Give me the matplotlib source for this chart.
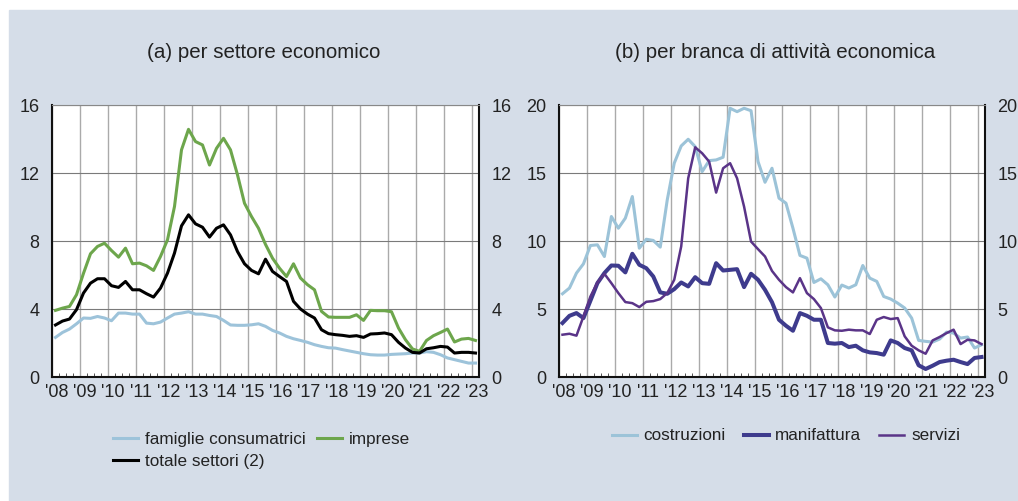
import matplotlib

matplotlib.use("Agg")
import matplotlib.pyplot as plt
import matplotlib.transforms as mtransforms
import numpy as np
from matplotlib.patches import Rectangle

plt.rcParams["font.family"] = ["Liberation Sans", "DejaVu Sans"]

# quarterly data, 2008Q1 .. 2023Q1 (plotted at mid-quarter)
quarters = 2008.125 + 0.25 * np.arange(61)
years = list(range(2008, 2024))
year_labels = ["'%02d" % (y % 100) for y in years]

# (a) per settore economico
famiglie = [2.33, 2.62, 2.82, 3.13, 3.47, 3.45, 3.56, 3.47, 3.31, 3.76,
            3.76, 3.70, 3.70, 3.17, 3.13, 3.23, 3.47, 3.70, 3.76, 3.84,
            3.70, 3.70, 3.62, 3.56, 3.33, 3.06, 3.04, 3.04, 3.07, 3.13,
            2.98, 2.74, 2.59, 2.39, 2.25, 2.15, 2.04, 1.90, 1.80, 1.72,
            1.70, 1.61, 1.53, 1.45, 1.37, 1.31, 1.29, 1.29, 1.33, 1.35,
            1.37, 1.41, 1.41, 1.49, 1.45, 1.31, 1.12, 1.02, 0.92, 0.82,
            0.82]
imprese = [3.92, 4.05, 4.15, 4.84, 6.10, 7.25, 7.68, 7.87, 7.44, 7.05,
           7.58, 6.66, 6.70, 6.54, 6.27, 7.09, 8.07, 10.03, 13.36, 14.57,
           13.85, 13.65, 12.47, 13.45, 14.04, 13.36, 11.89, 10.22, 9.44, 8.75,
           7.80, 6.99, 6.40, 5.91, 6.66, 5.82, 5.43, 5.13, 3.86, 3.53,
           3.51, 3.51, 3.51, 3.66, 3.33, 3.92, 3.90, 3.90, 3.84, 2.88,
           2.19, 1.65, 1.51, 2.15, 2.43, 2.62, 2.82, 2.06, 2.23, 2.27,
           2.15]
totale = [3.06, 3.29, 3.41, 3.96, 4.94, 5.52, 5.78, 5.78, 5.37, 5.27,
          5.62, 5.13, 5.13, 4.90, 4.70, 5.23, 6.11, 7.29, 8.89, 9.54,
          9.01, 8.81, 8.23, 8.75, 8.95, 8.36, 7.38, 6.66, 6.27, 6.07,
          6.93, 6.21, 5.91, 5.62, 4.45, 4.00, 3.70, 3.47, 2.78, 2.55,
          2.49, 2.45, 2.39, 2.43, 2.33, 2.53, 2.55, 2.59, 2.49, 2.04,
          1.70, 1.45, 1.41, 1.66, 1.72, 1.80, 1.76, 1.41, 1.45, 1.45,
          1.41]

# (b) per branca di attivita economica
costruzioni = [6.12, 6.54, 7.64, 8.32, 9.67, 9.72, 8.86, 11.80, 10.94, 11.68,
               13.27, 9.47, 10.13, 10.04, 9.55, 13.02, 15.72, 16.99, 17.48, 16.94,
               15.10, 15.91, 15.96, 16.16, 19.76, 19.51, 19.76, 19.58, 15.84, 14.32,
               15.35, 13.15, 12.78, 10.94, 8.94, 8.74, 6.95, 7.22, 6.78, 5.88,
               6.76, 6.54, 6.78, 8.20, 7.27, 7.03, 5.92, 5.73, 5.43, 5.07,
               4.33, 2.69, 2.62, 2.57, 2.79, 3.30, 3.23, 2.86, 2.94, 2.13,
               2.37]
manifattura = [3.97, 4.50, 4.70, 4.33, 5.61, 6.90, 7.64, 8.20, 8.18, 7.69,
               9.06, 8.25, 8.00, 7.39, 6.22, 6.12, 6.46, 6.95, 6.66, 7.34,
               6.90, 6.85, 8.37, 7.83, 7.88, 7.93, 6.61, 7.59, 7.15, 6.41,
               5.50, 4.21, 3.77, 3.40, 4.70, 4.50, 4.21, 4.21, 2.50, 2.45,
               2.50, 2.20, 2.30, 1.96, 1.81, 1.76, 1.64, 2.69, 2.50, 2.13,
               1.96, 0.86, 0.59, 0.83, 1.10, 1.20, 1.27, 1.10, 0.95, 1.40,
               1.47]
servizi = [3.11, 3.18, 3.04, 4.45, 5.92, 6.95, 7.59, 6.90, 6.17, 5.51,
           5.43, 5.14, 5.53, 5.58, 5.73, 6.17, 7.15, 9.60, 14.61, 16.89,
           16.45, 15.84, 13.56, 15.35, 15.72, 14.61, 12.53, 9.96, 9.40, 8.86,
           7.80, 7.15, 6.61, 6.22, 7.27, 6.17, 5.73, 5.07, 3.65, 3.43,
           3.40, 3.48, 3.43, 3.43, 3.16, 4.21, 4.41, 4.26, 4.33, 2.99,
           2.30, 1.96, 1.71, 2.69, 2.94, 3.23, 3.48, 2.42, 2.74, 2.69,
           2.42]

BG = "#d5dde8"
TXT = "#222222"

fig = plt.figure(figsize=(10.18, 5.01), dpi=100)
fig.patches.append(Rectangle((9 / 1018, 0), 1, 491 / 501, transform=fig.transFigure,
                             color=BG, zorder=-10))

ax_a = fig.add_axes([52 / 1018, 124 / 501, 427 / 1018, 272 / 501])
ax_b = fig.add_axes([559 / 1018, 124 / 501, 426 / 1018, 272 / 501])


def style_axis(ax, ymax, ystep):
    ax.set_facecolor("white")
    ax.set_xlim(2008, 2023.22)
    ax.set_ylim(0, ymax)
    ax.set_yticks(np.arange(0, ymax + 0.1, ystep))
    ax.set_xticks(years)
    ax.set_xticklabels(year_labels)
    ax.set_xticks(np.arange(2008, 2023.3, 0.25), minor=True)
    ax.tick_params(axis="x", which="major", direction="in", length=0, pad=5,
                   labelsize=13, labelcolor=TXT)
    ax.tick_params(axis="x", which="minor", direction="in", length=3, width=0.7,
                   color="#555555")
    ax.tick_params(axis="y", length=0, pad=9, labelsize=13, labelcolor=TXT,
                   labelright=True)
    # year labels sit a little to the right of the gridline
    offset = mtransforms.ScaledTranslation(0.05, 0, fig.dpi_scale_trans)
    for lab in ax.get_xticklabels():
        lab.set_transform(lab.get_transform() + offset)
    ax.grid(axis="x", color="#aaaaaa", lw=1.0)
    ax.grid(axis="y", color="#7a7a7a", lw=0.8)
    ax.set_axisbelow(True)
    for side in ["left", "bottom", "right"]:
        ax.spines[side].set_color("#111111")
        ax.spines[side].set_linewidth(1.5)
    ax.spines["top"].set_color("#888888")
    ax.spines["top"].set_linewidth(0.8)


style_axis(ax_a, 16, 4)
style_axis(ax_b, 20, 5)

l_fam, = ax_a.plot(quarters, famiglie, color="#9dc3da", lw=2.2, label="famiglie consumatrici")
l_imp, = ax_a.plot(quarters, imprese, color="#6da64c", lw=2.2, label="imprese")
l_tot, = ax_a.plot(quarters, totale, color="#000000", lw=2.2, label="totale settori (2)")

ax_b.plot(quarters, costruzioni, color="#9cc3d8", lw=2.2, label="costruzioni")
ax_b.plot(quarters, manifattura, color="#3e3b8d", lw=2.9, label="manifattura")
ax_b.plot(quarters, servizi, color="#5a3488", lw=1.8, label="servizi")

fig.text(264 / 1018, 1 - 53 / 501, "(a) per settore economico", ha="center",
         va="center", fontsize=14.8, color=TXT)
fig.text(775 / 1018, 1 - 53 / 501, "(b) per branca di attività economica",
         ha="center", va="center", fontsize=14.8, color=TXT)

leg_kw = dict(frameon=False, fontsize=12.3, handlelength=1.45, handletextpad=0.4,
              borderpad=0, borderaxespad=0, labelcolor=TXT)
# column-major fill: famiglie / totale in the first column, imprese in the second
ax_a.legend([l_fam, l_tot, l_imp],
            ["famiglie consumatrici", "totale settori (2)", "imprese"],
            loc="center left", bbox_to_anchor=(113 / 1018, 1 - 450.5 / 501),
            bbox_transform=fig.transFigure, ncol=2, columnspacing=0.7,
            labelspacing=0.38, **leg_kw)
ax_b.legend(loc="center left", bbox_to_anchor=(612 / 1018, 1 - 436 / 501),
            bbox_transform=fig.transFigure, ncol=3, columnspacing=1.05, **leg_kw)

fig.savefig("out.png", dpi=100, facecolor="white")
